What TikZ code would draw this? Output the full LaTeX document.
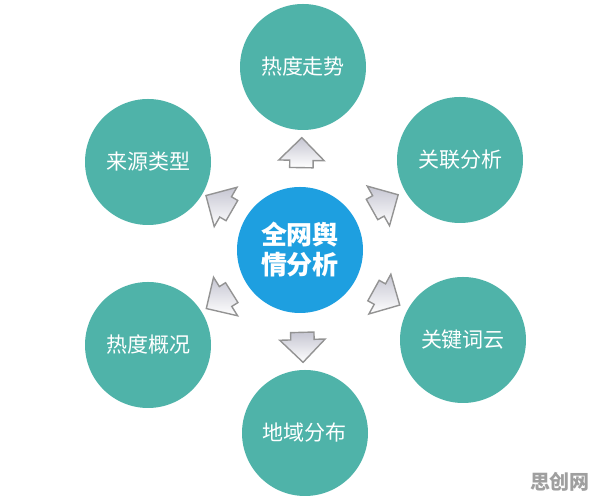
\documentclass[tikz,border=0pt]{standalone}
\usepackage{fontspec}
\newfontfamily\cjk{Noto Sans CJK SC}
\usetikzlibrary{shapes.arrows}
\definecolor{topicteal}{HTML}{4FB3A9}
\definecolor{hubblue}{HTML}{1E9FE0}
\begin{document}
\begin{tikzpicture}[
    x=0.5pt, y=-0.5pt,
    topic/.style={circle, fill=topicteal, minimum size=63pt, inner sep=0pt,
                  text=white, font=\cjk\fontsize{10.5}{12}\selectfont},
    hub/.style={circle, fill=hubblue, minimum size=63pt, inner sep=0pt,
                text=white, align=center, font=\cjk\bfseries\fontsize{13}{15}\selectfont},
    arrowbox/.style={single arrow, draw=gray!85, line width=0.7pt,
                     inner xsep=0pt, inner ysep=5.5pt,
                     minimum height=15pt, single arrow head extend=5.5pt,
                     top color=blue!12!gray!40, bottom color=white,
                     sloped, allow upside down}
]
\useasboundingbox (0,0) rectangle (596,501);

\node[hub] (hub) at (300,250) {全网舆\\情分析};
\node[topic] (trend) at (303,67) {热度走势};
\node[topic] (link) at (460,160) {关联分析};
\node[topic] (cloud) at (463,340) {关键词云};
\node[topic] (region) at (305,433) {地域分布};
\node[topic] (overview) at (148,345) {热度概况};
\node[topic] (source) at (148,162) {来源类型};

\foreach \t in {trend,link,cloud,region,overview,source}
    \path (hub) -- node[arrowbox] {} (\t);

\node[font=\cjk\bfseries\fontsize{10}{10}\selectfont, text=gray!75] (mark) at (560,482) {思创网};
\end{tikzpicture}
\end{document}
